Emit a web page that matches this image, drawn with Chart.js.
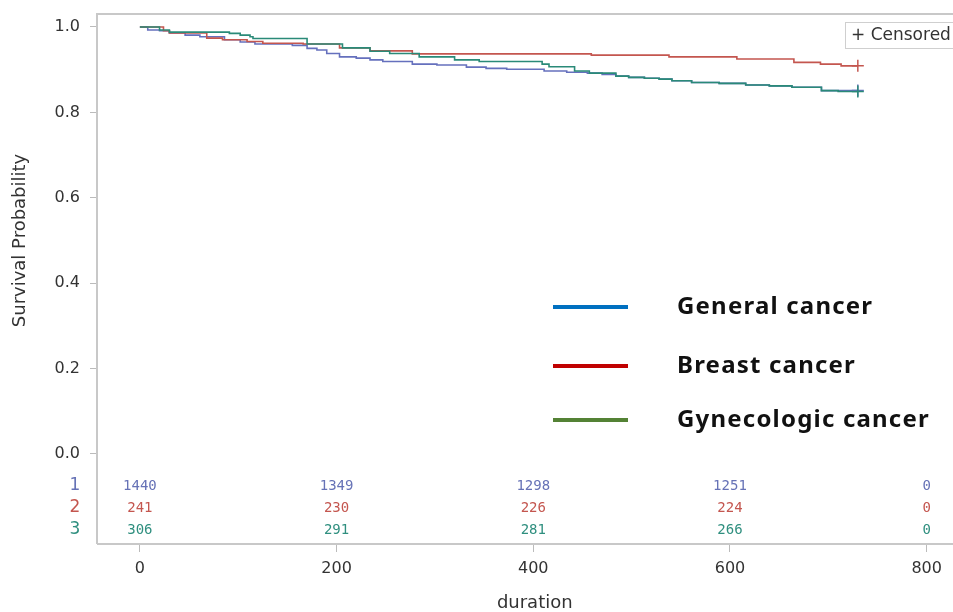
<!DOCTYPE html>
<html>
<head>
<meta charset="utf-8">
<script src="https://cdn.jsdelivr.net/npm/chart.js@4.4.1/dist/chart.umd.min.js"></script>
<style>
html, body { margin: 0; padding: 0; background: #fff; overflow: hidden; }
</style>
</head>
<body>
<canvas id="km" width="980" height="612"></canvas>
<script>
// Kaplan-Meier steps: time (days) and survival after the step
const times1 = [0, 8, 20, 30, 46, 61, 86, 102, 117, 155, 170, 180, 190, 203, 220, 234, 247, 277, 302, 332, 352, 373, 411, 434, 455, 470, 484, 497, 513, 528, 541, 561, 589, 616, 640, 663, 693, 730];
const surv1 = [1.0, 0.993, 0.991, 0.986, 0.981, 0.977, 0.970, 0.965, 0.960, 0.957, 0.950, 0.946, 0.938, 0.930, 0.927, 0.923, 0.919, 0.913, 0.911, 0.906, 0.903, 0.901, 0.897, 0.894, 0.892, 0.889, 0.885, 0.882, 0.880, 0.878, 0.874, 0.870, 0.868, 0.864, 0.862, 0.859, 0.851, 0.851];

const times2 = [0, 24, 30, 68, 84, 109, 125, 166, 203, 234, 277, 459, 538, 607, 665, 692, 713, 730];
const surv2 = [1.0, 0.991, 0.986, 0.974, 0.970, 0.966, 0.962, 0.960, 0.951, 0.944, 0.937, 0.934, 0.930, 0.925, 0.917, 0.913, 0.909, 0.909];

const times3 = [0, 20, 30, 91, 102, 112, 115, 170, 206, 234, 254, 284, 320, 345, 409, 416, 442, 457, 484, 497, 513, 528, 541, 561, 589, 616, 640, 663, 693, 710, 730];
const surv3 = [1.0, 0.993, 0.988, 0.985, 0.981, 0.977, 0.973, 0.960, 0.951, 0.943, 0.938, 0.930, 0.923, 0.919, 0.913, 0.907, 0.897, 0.892, 0.885, 0.882, 0.880, 0.878, 0.874, 0.870, 0.868, 0.864, 0.862, 0.859, 0.851, 0.849, 0.849];

const censorTime = 730;

// number at risk
const riskTimes = [0, 200, 400, 600, 800];
const risk1 = [1440, 1349, 1298, 1251, 0];
const risk2 = [241, 230, 226, 224, 0];
const risk3 = [306, 291, 281, 266, 0];
const groupNames = ['1', '2', '3'];

const xTicks = [0, 200, 400, 600, 800];
const yTicks = [0, 0.2, 0.4, 0.6, 0.8, 1.0];

const legendLabels = ['General cancer', 'Breast cancer', 'Gynecologic cancer'];
const legendColors = ['#0070c0', '#c00000', '#548235'];

const curveColors = ['#6570bd', '#c4564f', '#2a8a78'];
const riskColors = ['#6672b6', '#c4564f', '#2f8f7f'];

const toPts = (t, s) => t.map((v, i) => ({ x: v, y: s[i] }));

const decor = {
    id: 'decor',
    beforeDatasetsDraw(chart) {
        const { ctx, chartArea: a } = chart;
        ctx.save();
        ctx.strokeStyle = '#c8c8c8';
        ctx.lineWidth = 2;
        ctx.beginPath();
        ctx.moveTo(a.left, a.bottom);
        ctx.lineTo(a.left, a.top);
        ctx.lineTo(a.right + 20, a.top);
        ctx.moveTo(a.left, a.bottom);
        ctx.lineTo(a.right + 20, a.bottom);
        ctx.stroke();
        ctx.restore();
    },
    afterDraw(chart) {
        const { ctx, chartArea: a, scales } = chart;
        const x = scales.x, y = scales.y;
        ctx.save();

        // y title, centred on the 0..1 range
        const yMid = (y.getPixelForValue(0) + y.getPixelForValue(1)) / 2;
        ctx.translate(20, yMid);
        ctx.rotate(-Math.PI / 2);
        ctx.fillStyle = '#333';
        ctx.font = '18px "DejaVu Sans"';
        ctx.textAlign = 'center';
        ctx.textBaseline = 'middle';
        ctx.fillText('Survival Probability', 0, 0);
        ctx.setTransform(1, 0, 0, 1, 0, 0);

        // number-at-risk table
        const rows = [risk1, risk2, risk3];
        rows.forEach((row, r) => {
            const py = a.bottom - 58 + r * 22;
            ctx.fillStyle = riskColors[r];
            ctx.font = '17px "DejaVu Sans"';
            ctx.fillText(groupNames[r], 75, py);
            ctx.font = '14px "DejaVu Sans Mono"';
            row.forEach((n, i) => ctx.fillText(String(n), x.getPixelForValue(riskTimes[i]), py));
        });

        // censored key box
        ctx.fillStyle = '#fff';
        ctx.fillRect(845, 22, 140, 26);
        ctx.strokeStyle = '#cfcfcf';
        ctx.lineWidth = 1;
        ctx.strokeRect(845.5, 22.5, 140, 26);
        ctx.fillStyle = '#333';
        ctx.font = '17px "DejaVu Sans"';
        ctx.textAlign = 'left';
        ctx.fillText('+ Censored', 851, 36);

        // group legend overlay
        const legY = [307, 366, 420];
        ctx.letterSpacing = '1.2px';
        legendLabels.forEach((lab, i) => {
            ctx.strokeStyle = legendColors[i];
            ctx.lineWidth = 4;
            ctx.beginPath();
            ctx.moveTo(553, legY[i]);
            ctx.lineTo(628, legY[i]);
            ctx.stroke();
            ctx.fillStyle = '#111';
            ctx.font = 'bold 24px "Noto Sans"';
            ctx.fillText(lab, 677, legY[i]);
        });
        ctx.restore();
    }
};

const curve = (pts, color) => ({
    data: pts,
    borderColor: color,
    borderWidth: 1.6,
    stepped: true,
    pointRadius: 0,
    fill: false
});

const censor = (yv, color) => ({
    type: 'scatter',
    data: [{ x: censorTime, y: yv }],
    borderColor: color,
    backgroundColor: color,
    pointStyle: 'cross',
    pointRadius: 6,
    pointBorderWidth: 1.5,
    showLine: false
});

new Chart(document.getElementById('km').getContext('2d'), {
    type: 'line',
    data: {
        datasets: [
            censor(surv3[surv3.length - 1], curveColors[2]),
            censor(surv2[surv2.length - 1], curveColors[1]),
            censor(surv1[surv1.length - 1], curveColors[0]),
            curve(toPts(times3, surv3), curveColors[2]),
            curve(toPts(times2, surv2), curveColors[1]),
            curve(toPts(times1, surv1), curveColors[0])
        ]
    },
    options: {
        responsive: false,
        animation: false,
        layout: { padding: { top: 14, left: 0, right: 5, bottom: 0 } },
        plugins: { legend: { display: false }, tooltip: { enabled: false } },
        scales: {
            x: {
                type: 'linear',
                min: -43.6,
                max: 846.6,
                afterBuildTicks: s => { s.ticks = xTicks.map(v => ({ value: v })); },
                afterFit: s => { s.height = 68; s.paddingLeft = 0; s.paddingRight = 0; },
                border: { display: false },
                grid: { drawOnChartArea: false, drawTicks: true, tickLength: 8, color: '#bbb' },
                ticks: { color: '#333', font: { family: 'DejaVu Sans', size: 16 }, padding: 7, maxRotation: 0 },
                title: { display: true, text: 'duration', color: '#333', font: { family: 'DejaVu Sans', size: 18 }, padding: { top: 4, bottom: -2 } }
            },
            y: {
                min: -0.2108,
                max: 1.0304,
                afterBuildTicks: s => { s.ticks = yTicks.map(v => ({ value: v })); },
                afterFit: s => { s.width = 97; s.paddingTop = 0; s.paddingBottom = 0; },
                border: { display: false },
                grid: { drawOnChartArea: false, drawTicks: true, tickLength: 7, color: '#bbb' },
                ticks: { color: '#333', font: { family: 'DejaVu Sans', size: 16 }, padding: 10, callback: v => v.toFixed(1) }
            }
        }
    },
    plugins: [decor]
});
</script>
</body>
</html>
